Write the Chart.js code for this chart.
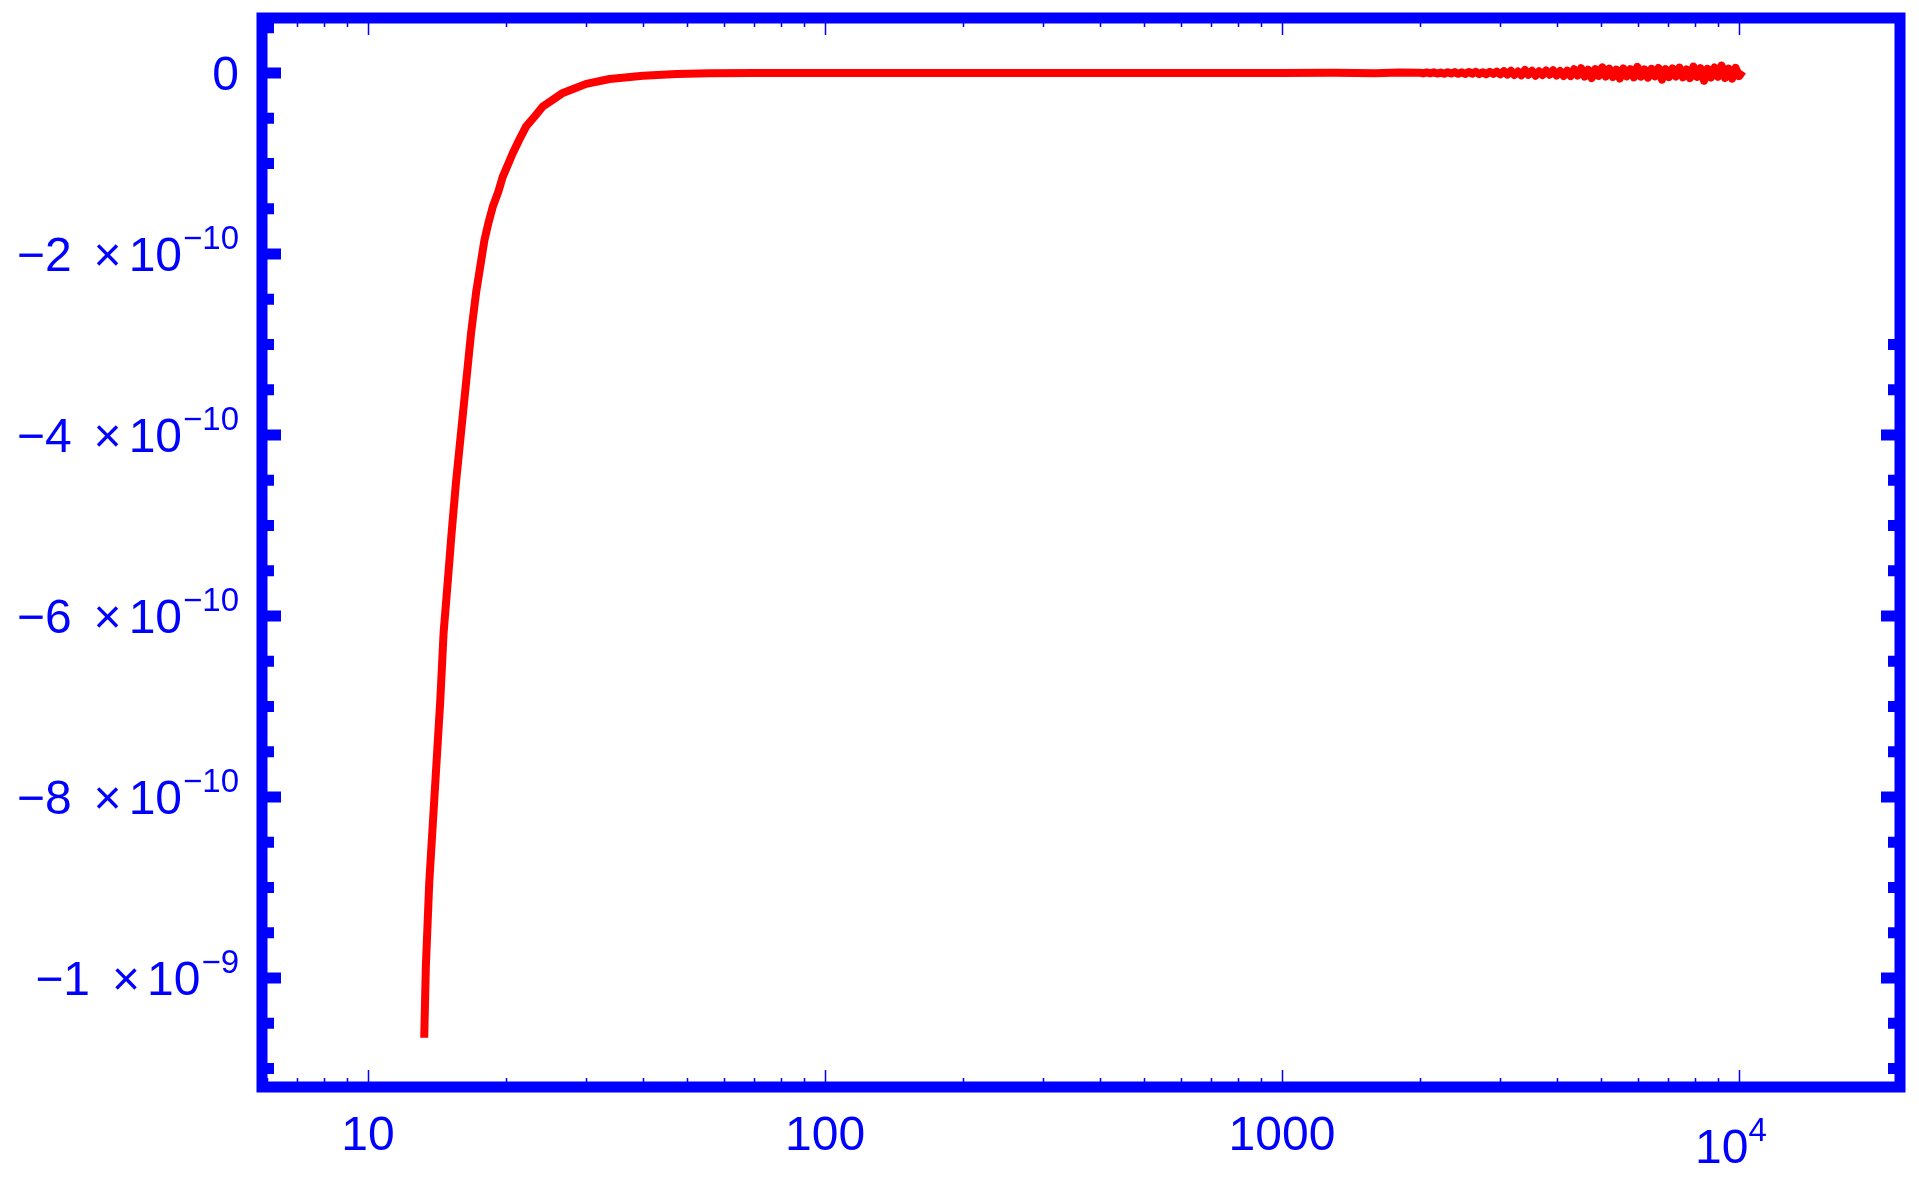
<!DOCTYPE html>
<html>
<head>
<meta charset="utf-8">
<script src="https://cdn.jsdelivr.net/npm/chart.js@4/dist/chart.umd.min.js"></script>
<style>
  html, body { margin: 0; padding: 0; background: #fff; overflow: hidden; }
  canvas { display: block; }
</style>
</head>
<body>
<canvas id="plot" width="1919" height="1183"></canvas>
<script>
'use strict';

// steep rise
const riseX = [13.27, 13.38, 13.61, 13.96, 14.39, 14.63, 14.93, 15.23, 15.57, 15.97,
	16.38, 16.80, 17.23, 17.97, 18.33, 18.74, 19.28, 19.70, 20.72, 21.50,
	22.18, 23.20, 24.12, 25.44, 26.68, 28.38, 30.02, 33.77, 39.96, 47.29,
	55.96, 70, 100, 200, 500, 1000, 1300, 1600, 1800];
const riseY = [-1.066e-9, -9.875e-10, -8.95e-10, -8.03e-10, -6.93e-10, -6.19e-10, -5.64e-10, -5.09e-10, -4.53e-10, -3.98e-10,
	-3.43e-10, -2.88e-10, -2.43e-10, -1.85e-10, -1.661e-10, -1.48e-10, -1.312e-10, -1.15e-10, -8.9e-11, -7.22e-11,
	-5.9e-11, -4.75e-11, -3.7e-11, -2.91e-11, -2.2e-11, -1.69e-11, -1.2e-11, -6.6e-12, -3.0e-12, -1.1e-12,
	-3e-13, -1e-13, 0, 0, 0, 0, 3e-13, -4e-13, 5e-13];

// noisy tail near zero
const tailX = [2000, 2036, 2072, 2109, 2147, 2185, 2224, 2264, 2304, 2345, 2387, 2430,
	2473, 2517, 2562, 2608, 2655, 2702, 2750, 2799, 2849, 2900, 2952, 3005,
	3058, 3113, 3169, 3225, 3283, 3341, 3401, 3462, 3524, 3587, 3651, 3716, 3782, 3850, 3919, 3989, 4060, 4133, 4207,
	4282, 4358, 4436, 4515, 4596, 4678, 4762, 4847, 4933, 5021,
	5111, 5202, 5295, 5390, 5486, 5584, 5684, 5785, 5888, 5993,
	6100, 6209, 6320, 6433, 6547, 6664, 6783, 6904, 7027, 7152,
	7280, 7410, 7542, 7676, 7813, 7952, 8094, 8238, 8385, 8535,
	8687, 8842, 9000, 9160, 9324, 9490, 9659, 9831, 10007, 10186];
const tailY = [0.4e-12, -0.5e-12, 0.6e-12, -0.3e-12, 0.7e-12, -0.6e-12, 0.5e-12, -0.8e-12, 0.9e-12, -0.6e-12, 1.0e-12, -0.9e-12,
	0.7e-12, -1.1e-12, 1.2e-12, -0.8e-12, 1.4e-12, -1.2e-12, 0.9e-12, -1.5e-12, 1.3e-12, -1.0e-12, 1.6e-12, -1.4e-12,
	2.1e-12, -1.8e-12, 2.5e-12, -2.2e-12, 1.7e-12, -2.6e-12, 3.4e-12, -2.0e-12, 2.4e-12, -3.0e-12,
	1.9e-12, -2.3e-12, 2.8e-12, -1.9e-12, 3.1e-12, -2.7e-12, 2.2e-12, -3.3e-12, 2.6e-12,
	-3.4e-12, 4.1e-12, -2.9e-12, 5.2e-12, -4.0e-12, 3.6e-12, -5.6e-12, 4.4e-12, -3.2e-12, 6.3e-12,
	-3.9e-12, 4.8e-12, -4.5e-12, 3.7e-12, -6.1e-12, 5.0e-12, -3.6e-12, 4.2e-12, -4.9e-12, 6.8e-12,
	-4.1e-12, 3.9e-12, -5.2e-12, 4.6e-12, -3.8e-12, 5.5e-12, -7.4e-12, 4.3e-12, -4.6e-12, 5.1e-12,
	-3.9e-12, 6.0e-12, -4.8e-12, 4.0e-12, -5.7e-12, 7.2e-12, -4.4e-12, 5.3e-12, -8.6e-12, 4.7e-12,
	-5.0e-12, 6.1e-12, -4.2e-12, 8.3e-12, -5.4e-12, 4.9e-12, -6.3e-12, 5.8e-12, -3.5e-12, 2.0e-12];

const xTickValues = [10, 100, 1000, 10000];
const xTickBase = ['10', '100', '1000', '10'];
const xTickExp = ['', '', '', '4'];

const yTickValues = [0, -2e-10, -4e-10, -6e-10, -8e-10, -1e-9];
const yTickBase = ['0', '\u22122', '\u22124', '\u22126', '\u22128', '\u22121'];
const yTickExp = ['', '\u221210', '\u221210', '\u221210', '\u221210', '\u22129'];

const BLUE = '#0000ff';
const RED = '#ff0000';
const MAIN_FONT = '48px "Liberation Sans", Arial, sans-serif';
const SUP_FONT = '33px "Liberation Sans", Arial, sans-serif';

function buildPoints() {
	const pts = [];
	riseX.forEach((x, i) => pts.push({ x: x, y: riseY[i] }));
	tailX.forEach((x, i) => pts.push({ x: x, y: tailY[i] }));
	return pts;
}

// y label: base, "x", "10" and a raised exponent, laid out from the right
function drawYLabel(ctx, base, exp, py) {
	const right = 239;
	const baseline = py + 17;
	ctx.textAlign = 'right';
	ctx.textBaseline = 'alphabetic';
	if (!exp) {
		ctx.font = MAIN_FONT;
		ctx.fillText(base, right, baseline);
		return;
	}
	ctx.font = SUP_FONT;
	ctx.fillText(exp, right, baseline - 22);
	let pos = right - ctx.measureText(exp).width - 1;
	ctx.font = MAIN_FONT;
	ctx.fillText('10', pos, baseline);
	pos -= ctx.measureText('10').width + 7;
	ctx.fillText('\u00d7', pos, baseline);
	pos -= ctx.measureText('\u00d7').width + 22;
	ctx.fillText(base, pos, baseline);
}

function drawXLabel(ctx, base, exp, px) {
	ctx.textBaseline = 'alphabetic';
	ctx.font = MAIN_FONT;
	if (!exp) {
		ctx.textAlign = 'center';
		ctx.fillText(base, px, 1150);
		return;
	}
	const wb = ctx.measureText(base).width;
	ctx.font = SUP_FONT;
	const we = ctx.measureText(exp).width;
	const left = px - (wb + we) / 2 - 8;
	ctx.textAlign = 'left';
	ctx.font = MAIN_FONT;
	ctx.fillText(base, left, 1163);
	ctx.font = SUP_FONT;
	ctx.fillText(exp, left + wb, 1141);
}

const framePlugin = {
	id: 'frame',
	afterDatasetsDraw(chart) {
		const { ctx, chartArea: a, scales } = chart;
		const xs = scales.x;
		const ys = scales.y;
		ctx.save();
		ctx.fillStyle = BLUE;
		ctx.strokeStyle = BLUE;

		// y ticks: thick, pointing inwards
		const yMajor = new Set(yTickValues.map((v) => v.toFixed(13)));
		for (let k = 1; k >= -22; k--) {
			const v = k * 0.5e-10;
			if (v > ys.max || v < ys.min) continue;
			const py = ys.getPixelForValue(v);
			const len = yMajor.has(v.toFixed(13)) ? 14 : 7;
			ctx.fillRect(a.left + 5, py - 5.5, len, 11);
			if (v <= -3e-10) {
				ctx.fillRect(a.right - 5 - len, py - 5.5, len, 11);
			}
		}

		// x ticks: thin, on top and bottom edges
		ctx.lineWidth = 1.5;
		const xt = [];
		for (let d = 1; d <= 1000; d *= 10) {
			for (let m = 1; m <= 9; m++) xt.push({ v: m * d, major: m === 1 });
		}
		xt.push({ v: 10000, major: true });
		xt.forEach((t) => {
			if (t.v < xs.min) return;
			const px = Math.round(xs.getPixelForValue(t.v)) + 0.5;
			const len = t.major ? 12 : 4;
			ctx.beginPath();
			ctx.moveTo(px, a.bottom - 5);
			ctx.lineTo(px, a.bottom - 5 - len);
			ctx.moveTo(px, a.top + 5);
			ctx.lineTo(px, a.top + 5 + len);
			ctx.stroke();
		});

		// frame
		ctx.lineWidth = 11;
		ctx.lineJoin = 'miter';
		ctx.strokeRect(a.left, a.top, a.right - a.left, a.bottom - a.top);

		// labels
		yTickValues.forEach((v, i) => drawYLabel(ctx, yTickBase[i], yTickExp[i], ys.getPixelForValue(v)));
		xTickValues.forEach((v, i) => drawXLabel(ctx, xTickBase[i], xTickExp[i], xs.getPixelForValue(v)));
		ctx.restore();
	},
};

function makeChart() {
	const ctx = document.querySelector('#plot').getContext('2d');
	return new Chart(ctx, {
		type: 'line',
		data: {
			datasets: [{
				data: buildPoints(),
				borderColor: RED,
				borderWidth: 8,
				borderJoinStyle: 'round',
				pointRadius: 0,
				tension: 0,
				fill: false,
			}],
		},
		options: {
			responsive: false,
			animation: false,
			devicePixelRatio: 1,
			layout: { padding: { left: 262, top: 18, right: 19, bottom: 96 } },
			plugins: { legend: { display: false }, tooltip: { enabled: false } },
			scales: {
				x: { type: 'logarithmic', min: 5.86, max: 22510, display: false },
				y: { type: 'linear', min: -1.12044e-9, max: 0.6077e-10, display: false },
			},
		},
		plugins: [framePlugin],
	});
}

makeChart();
</script>
</body>
</html>
